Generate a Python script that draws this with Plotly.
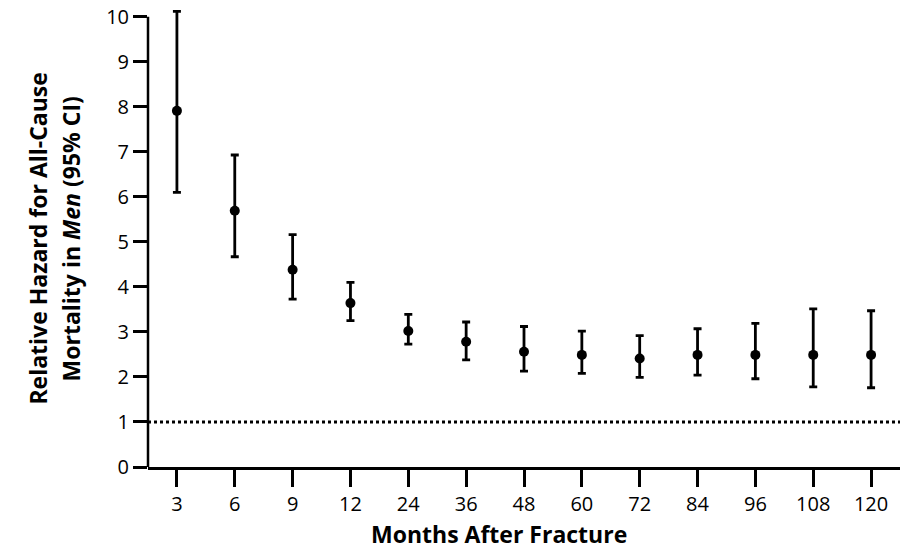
import plotly.graph_objects as go

months = ["3", "6", "9", "12", "24", "36", "48", "60", "72", "84", "96", "108", "120"]
hazard = [7.91, 5.69, 4.38, 3.64, 3.02, 2.78, 2.56, 2.49, 2.41, 2.49, 2.49, 2.49, 2.49]
ci_upper = [10.12, 6.93, 5.16, 4.10, 3.39, 3.22, 3.12, 3.02, 2.92, 3.07, 3.19, 3.51, 3.47]
ci_lower = [6.10, 4.67, 3.73, 3.25, 2.73, 2.38, 2.13, 2.08, 1.99, 2.04, 1.96, 1.78, 1.76]
reference_level = 1
y_ticks = list(range(0, 11))
x_title = "<b>Months After Fracture</b>"
y_title_lines = ["<b>Relative Hazard for All-Cause</b>", "<b>Mortality in <i>Men</i> (95% CI)</b>"]

err_plus = [u - h for u, h in zip(ci_upper, hazard)]
err_minus = [h - l for h, l in zip(hazard, ci_lower)]

font_family = "Open Sans, Noto Sans, DejaVu Sans, sans-serif"

fig = go.Figure()
fig.add_trace(go.Scatter(
    x=months, y=hazard, mode="markers",
    marker=dict(color="black", size=10),
    error_y=dict(type="data", symmetric=False, array=err_plus, arrayminus=err_minus,
                 color="black", thickness=2.8, width=4),
    cliponaxis=False, showlegend=False,
))

# reference line at hazard = 1
fig.add_shape(type="line", xref="paper", x0=0, x1=1, yref="y",
              y0=reference_level, y1=reference_level,
              line=dict(color="black", width=3, dash="dot"))
# y axis line spanning exactly the tick range
fig.add_shape(type="line", xref="paper", x0=0, x1=0, yref="y",
              y0=y_ticks[0], y1=y_ticks[-1],
              line=dict(color="black", width=2.5))

# axis titles as annotations for precise placement
fig.add_annotation(text=x_title, xref="paper", yref="paper", x=0.467, y=-0.1467,
                   xanchor="center", yanchor="middle", showarrow=False,
                   font=dict(size=23))
for txt, xp in zip(y_title_lines, [-0.1475, -0.1025]):
    fig.add_annotation(text=txt, xref="paper", yref="paper", x=xp, y=0.5,
                       xanchor="center", yanchor="middle", showarrow=False,
                       textangle=-90, font=dict(size=23))

fig.update_layout(
    width=918, height=550,
    margin=dict(l=140, r=26, t=2.25, b=91, autoexpand=False),
    plot_bgcolor="white", paper_bgcolor="white",
    font=dict(family=font_family, color="black", size=20),
    xaxis=dict(
        type="category", range=[-0.5, 12.5], automargin=False,
        showline=True, linecolor="black", linewidth=2.5,
        ticks="outside", ticklen=17, tickwidth=2.8, tickcolor="black",
        showgrid=False, zeroline=False,
        tickfont=dict(size=20),
    ),
    yaxis=dict(
        range=[0, 10.15], tickvals=y_ticks, automargin=False,
        showline=False, ticklabeloverflow="allow",
        ticks="outside", ticklen=14, tickwidth=2.5, tickcolor="black",
        showgrid=False, zeroline=False,
        tickfont=dict(size=20),
    ),
)

fig.write_html("out.html")
